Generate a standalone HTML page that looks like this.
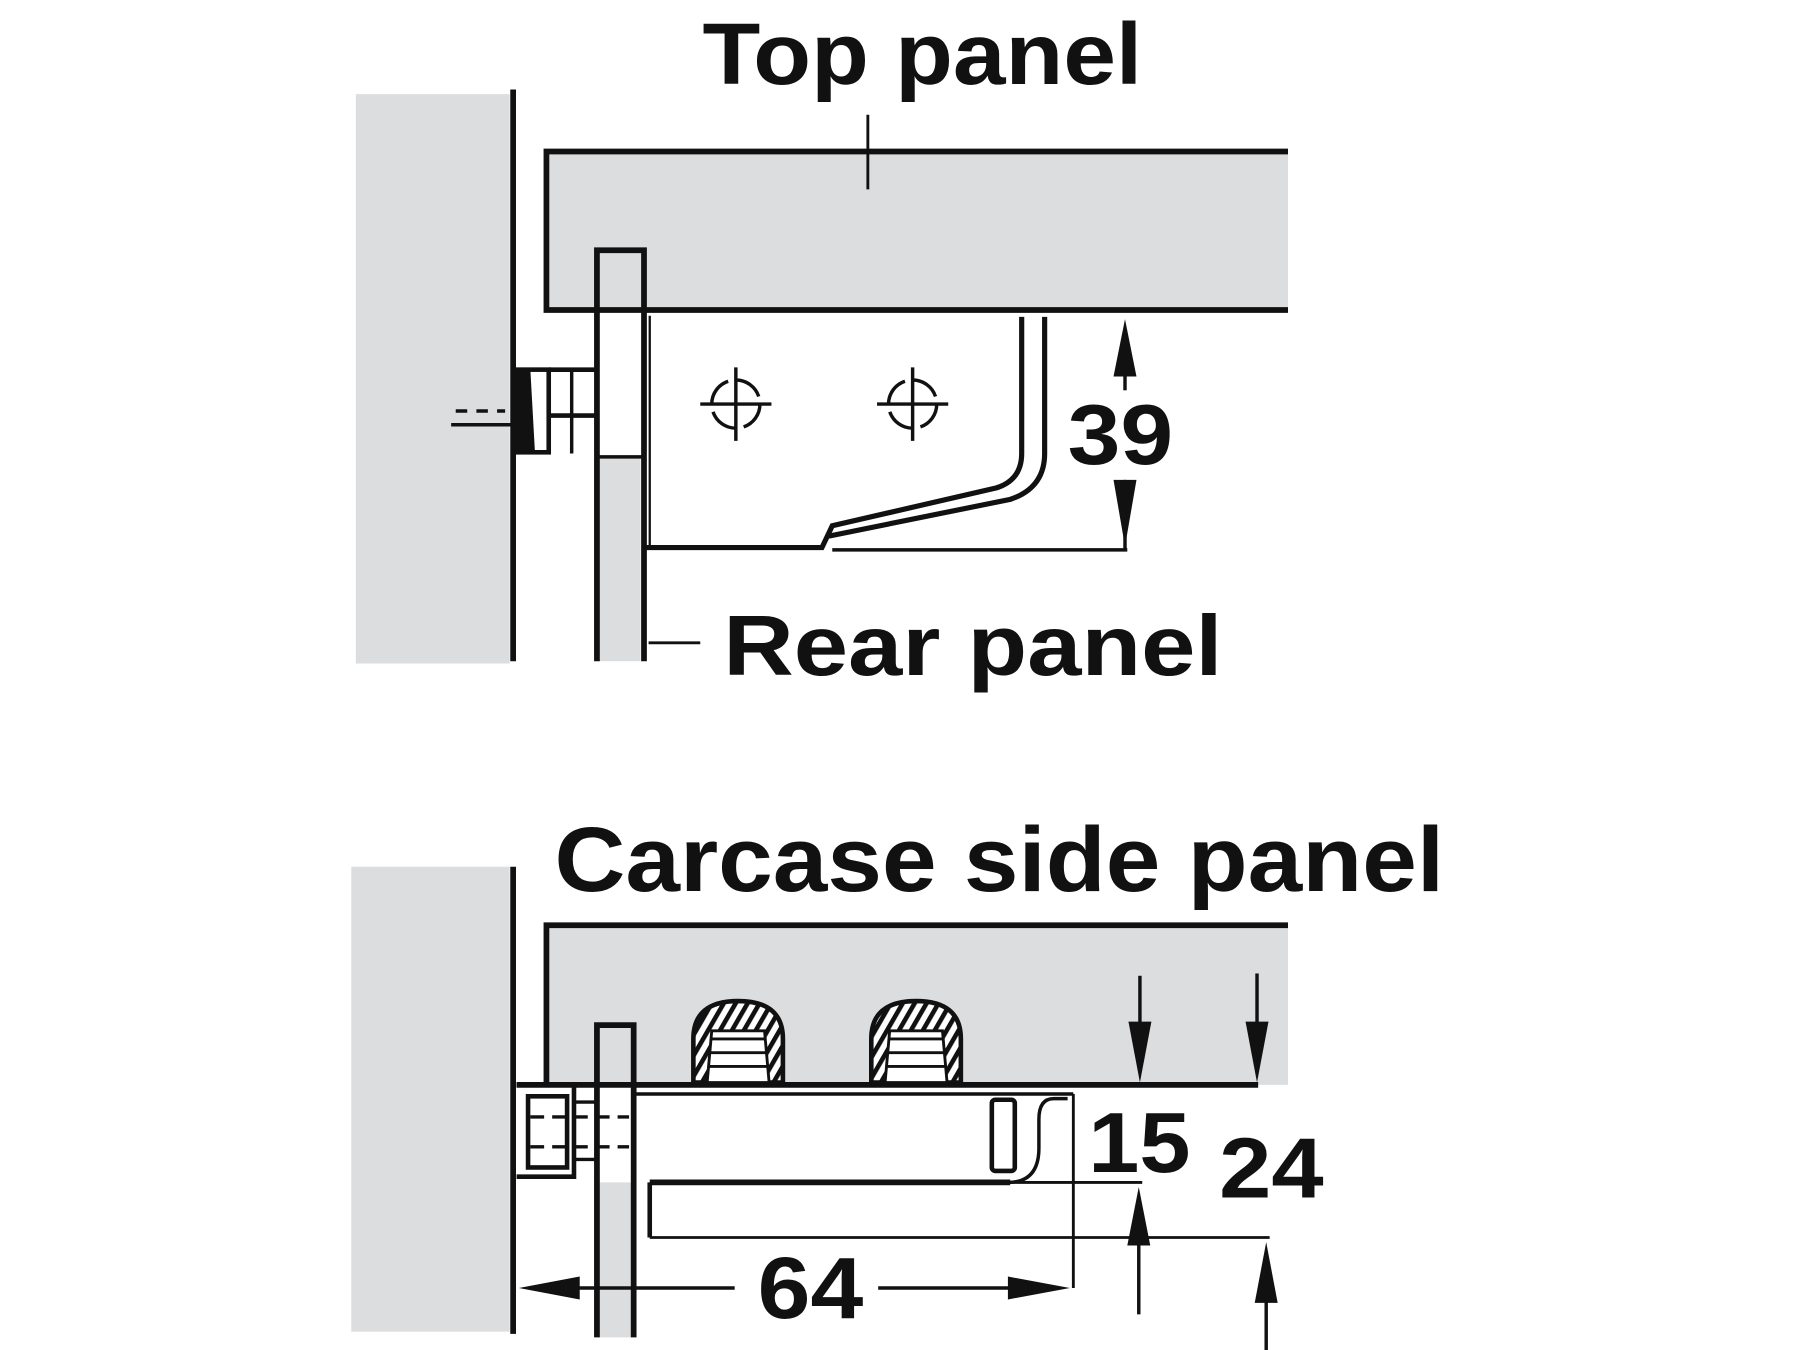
<!DOCTYPE html>
<html><head><style>html,body{margin:0;padding:0;background:#fff}svg{display:block}</style></head>
<body>
<svg width="1800" height="1350" viewBox="0 0 1568 1176" xmlns="http://www.w3.org/2000/svg" font-family="Liberation Sans, sans-serif" font-weight="bold">
<defs>
<pattern id="h" width="9" height="9" patternUnits="userSpaceOnUse" patternTransform="rotate(30)">
<rect width="9" height="9" fill="#fff"/><rect width="4" height="9" fill="#111"/></pattern>
</defs>
<!-- TOP -->
<rect x="310" y="82" width="134" height="496" fill="#dcdddf"/>
<rect x="476" y="132" width="646" height="138" fill="#dcdddf"/>
<rect x="522" y="398" width="36" height="178" fill="#dcdddf"/>
<g stroke="#111" fill="none" stroke-width="5">
<line x1="447" y1="78" x2="447" y2="576"/>
<polyline points="1122,132 476,132 476,270 1122,270"/>
<polyline points="520,576 520,218 561,218 561,576"/>
<rect x="450" y="322" width="28" height="72" stroke-width="4"/>
<line x1="478" y1="322" x2="520" y2="322" stroke-width="4"/>
<line x1="478" y1="362" x2="520" y2="362" stroke-width="4"/>
<line x1="498" y1="322" x2="498" y2="395" stroke-width="3"/>
<line x1="478" y1="340" x2="478" y2="395" stroke-width="3"/>
<line x1="561" y1="398" x2="520" y2="398" stroke-width="3"/>
<path d="M561 477 H716 L725 458 L868 425 Q890 418 890 395 V276" stroke-width="4.5"/>
<path d="M722 467 L880 435 Q910 425 910 395 V276" stroke-width="4.5"/>
<line x1="725" y1="479" x2="982" y2="479" stroke-width="3"/>
<line x1="566" y1="275" x2="566" y2="477" stroke-width="2"/>
<line x1="980" y1="320" x2="980" y2="340" stroke-width="3"/>
<line x1="980" y1="418" x2="980" y2="478" stroke-width="3"/>
<line x1="756" y1="100" x2="756" y2="165" stroke-width="2.5"/>
<line x1="565" y1="560" x2="610" y2="560" stroke-width="2.5"/>
<line x1="393" y1="370" x2="447" y2="370" stroke-width="3"/>
<line x1="397" y1="358" x2="440" y2="358" stroke-width="3" stroke-dasharray="10,8"/>
</g>
<polygon points="450,322 462,322 466,394 450,394" fill="#111"/>
<polygon points="980,278 970,328 990,328" fill="#111"/>
<polygon points="980,476 970,418 990,418" fill="#111"/>
<g stroke="#111" stroke-width="3" fill="none">
<circle cx="641" cy="352" r="21" stroke-dasharray="26,7"/>
<path d="M641 320 V384 M610 352 H672"/>
<circle cx="795" cy="352" r="21" stroke-dasharray="26,7"/>
<path d="M795 320 V384 M764 352 H826"/>
</g>
<text x="612" y="73" font-size="76" textLength="383" lengthAdjust="spacingAndGlyphs" fill="#111">Top panel</text>
<text x="930" y="404" font-size="74" textLength="92" lengthAdjust="spacingAndGlyphs" fill="#111">39</text>
<text x="630" y="588" font-size="74" textLength="435" lengthAdjust="spacingAndGlyphs" fill="#111">Rear panel</text>
<!-- BOTTOM -->
<rect x="306" y="755" width="138" height="405" fill="#dcdddf"/>
<rect x="476" y="806" width="646" height="139" fill="#dcdddf"/>
<rect x="522" y="1030" width="30" height="135" fill="#dcdddf"/>
<g stroke="#111" fill="none" stroke-width="5">
<line x1="447" y1="755" x2="447" y2="1162"/>
<polyline points="1122,806 476,806 476,945"/>
<line x1="450" y1="945" x2="1096" y2="945"/>
<polyline points="520,1165 520,893 552,893 552,1165"/>
<polyline points="450,945 500,945 500,1025 450,1025" stroke-width="4"/>
<rect x="460" y="955" width="34" height="62" stroke-width="4"/>
<line x1="500" y1="960" x2="520" y2="960" stroke-width="3"/>
<line x1="500" y1="1010" x2="520" y2="1010" stroke-width="3"/>
<line x1="462" y1="973" x2="548" y2="973" stroke-width="3" stroke-dasharray="12,7"/>
<line x1="462" y1="999" x2="548" y2="999" stroke-width="3" stroke-dasharray="12,7"/>
<line x1="552" y1="953" x2="935" y2="953" stroke-width="3"/>
<line x1="935" y1="953" x2="935" y2="1122" stroke-width="2.5"/>
<rect x="864" y="958" width="20" height="62" rx="3" stroke-width="4"/>
<path d="M930 957 H918 Q905 957 905 975 V1000 Q905 1030 878 1030" stroke-width="3"/>
<line x1="566" y1="1030" x2="880" y2="1030" stroke-width="5"/>
<line x1="880" y1="1030" x2="995" y2="1030" stroke-width="2.5"/>
<line x1="566" y1="1030" x2="566" y2="1078" stroke-width="4"/>
<line x1="566" y1="1078" x2="1106" y2="1078" stroke-width="2.5"/>
<line x1="993" y1="850" x2="993" y2="900" stroke-width="3"/>
<line x1="1095" y1="848" x2="1095" y2="900" stroke-width="3"/>
<line x1="992" y1="1075" x2="992" y2="1145" stroke-width="3"/>
<line x1="1103" y1="1125" x2="1103" y2="1176" stroke-width="3"/>
<line x1="495" y1="1122" x2="640" y2="1122" stroke-width="3"/>
<line x1="765" y1="1122" x2="880" y2="1122" stroke-width="3"/>
</g>
<g stroke="#111" stroke-width="4" fill="url(#h)">
<path d="M604 943 V905 Q604 872 643 872 Q682 872 682 905 V943 Z"/>
<path d="M759 943 V905 Q759 872 798 872 Q837 872 837 905 V943 Z"/>
</g>
<g fill="#fff" stroke="#111" stroke-width="2.5">
<path d="M616 943 L620 898 H666 L670 943 Z"/>
<path d="M771 943 L775 898 H821 L825 943 Z"/>
</g>
<g stroke="#111" stroke-width="2.5">
<path d="M620 905 H666 M619 917 H667 M618 929 H668 M775 905 H821 M774 917 H822 M773 929 H823"/>
</g>
<g fill="#111">
<polygon points="993,943 983,890 1003,890"/>
<polygon points="1095,943 1085,890 1105,890"/>
<polygon points="992,1034 982,1085 1002,1085"/>
<polygon points="1103,1082 1093,1135 1113,1135"/>
<polygon points="452,1122 505,1112 505,1132"/>
<polygon points="932,1122 878,1112 878,1132"/>
</g>
<text x="483" y="776" font-size="80" textLength="775" lengthAdjust="spacingAndGlyphs" fill="#111">Carcase side panel</text>
<text x="948" y="1021" font-size="74" textLength="89" lengthAdjust="spacingAndGlyphs" fill="#111">15</text>
<text x="1062" y="1043" font-size="74" textLength="91" lengthAdjust="spacingAndGlyphs" fill="#111">24</text>
<text x="660" y="1148" font-size="76" textLength="92" lengthAdjust="spacingAndGlyphs" fill="#111">64</text>
</svg>
</body></html>
